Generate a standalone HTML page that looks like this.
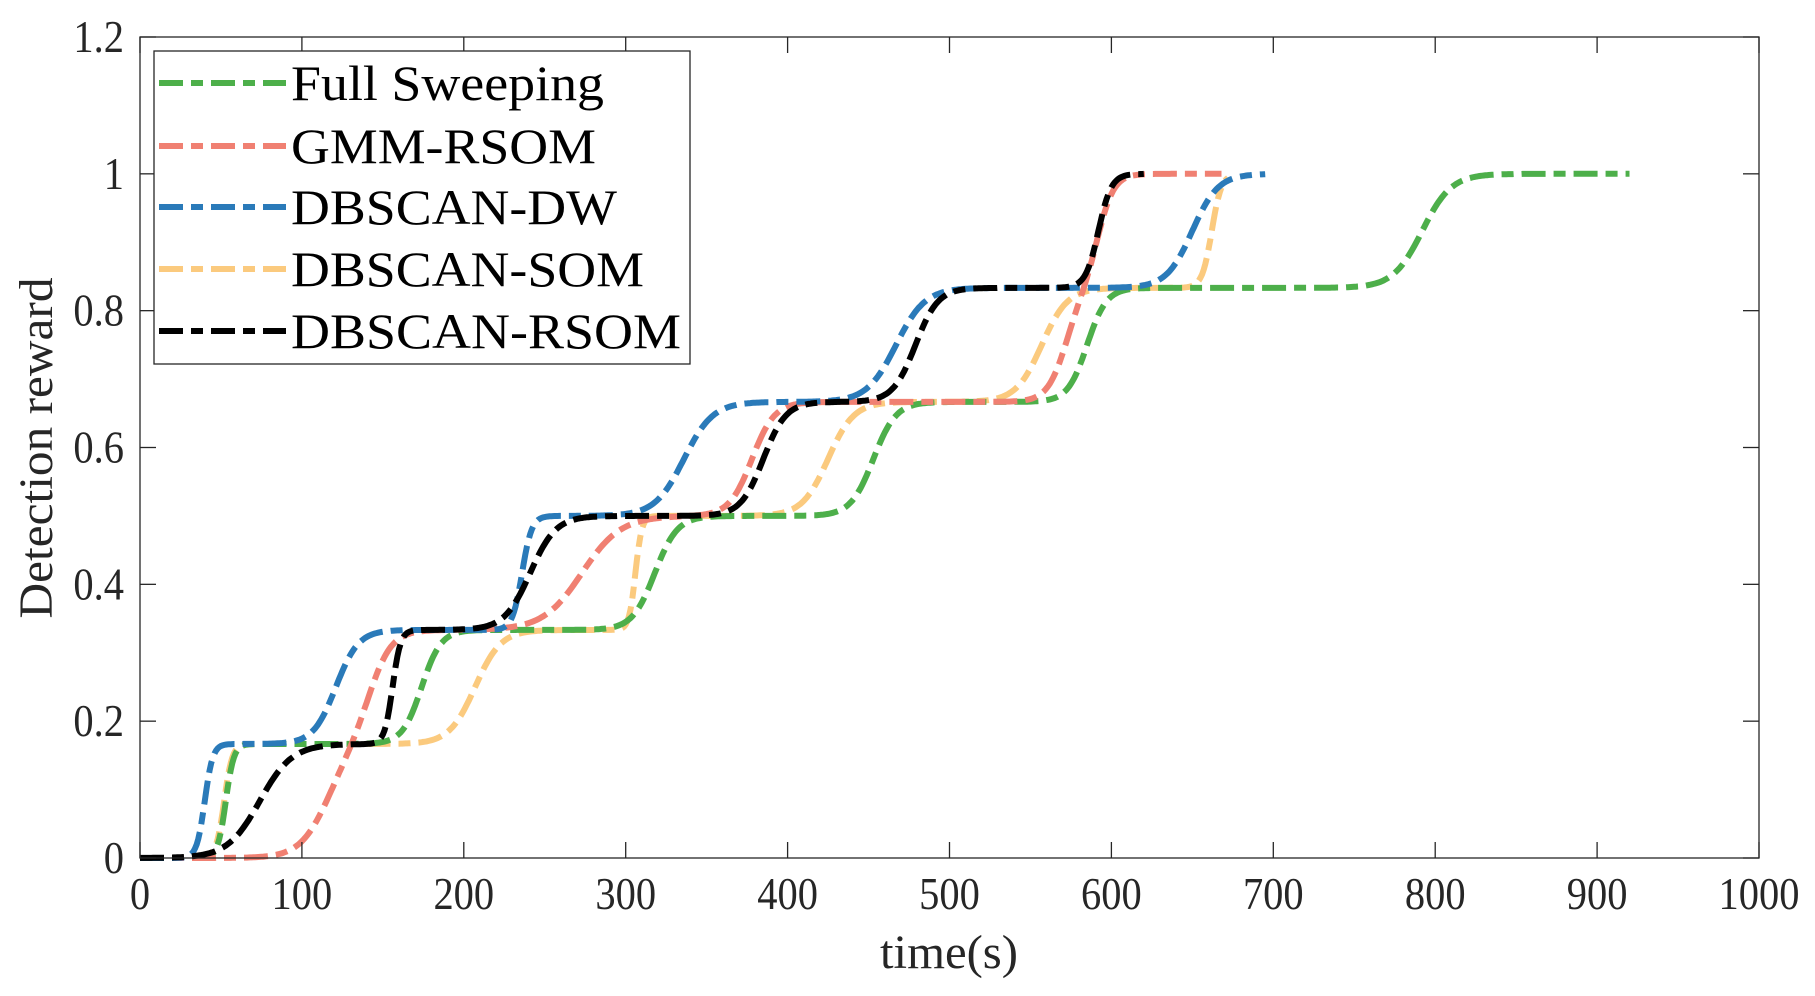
<!DOCTYPE html>
<html><head><meta charset="utf-8"><style>
body{margin:0;background:#fff}
svg{display:block}
text{font-family:"Liberation Serif",serif;fill:#262626}
</style></head><body>
<svg id="s" width="1815" height="996" viewBox="0 0 1815 996" xmlns="http://www.w3.org/2000/svg">
<rect x="0" y="0" width="1815" height="996" fill="#fff"/>
<g id="curves" fill="none" stroke-width="6" stroke-dasharray="24 8 12 8"></g>
<g id="axes" stroke="#262626" stroke-width="1.3" fill="none"></g>
<g id="labels" font-size="46"></g>
<text x="949" y="968" font-size="48" text-anchor="middle" textLength="138" lengthAdjust="spacingAndGlyphs">time(s)</text>
<text transform="translate(52,448) rotate(-90)" font-size="48" text-anchor="middle" textLength="341" lengthAdjust="spacingAndGlyphs">Detection reward</text>
<g>
<rect x="154" y="51" width="536" height="313" fill="#fff" stroke="#262626" stroke-width="1.3"/>
<g stroke-width="6" stroke-dasharray="24 8 12 8">
<line x1="159" y1="83" x2="286" y2="83" stroke="#4daf4a"/>
<line x1="159" y1="146" x2="286" y2="146" stroke="#f08072"/>
<line x1="159" y1="207" x2="286" y2="207" stroke="#2a7ab9"/>
<line x1="159" y1="269" x2="286" y2="269" stroke="#fbca7e"/>
<line x1="159" y1="331" x2="286" y2="331" stroke="#000"/>
</g>
<g font-size="50">
<text x="291" y="100" style="fill:#000" textLength="313" lengthAdjust="spacingAndGlyphs">Full Sweeping</text>
<text x="291" y="163" style="fill:#000" textLength="305" lengthAdjust="spacingAndGlyphs">GMM-RSOM</text>
<text x="291" y="224" style="fill:#000" textLength="326" lengthAdjust="spacingAndGlyphs">DBSCAN-DW</text>
<text x="291" y="286" style="fill:#000" textLength="353" lengthAdjust="spacingAndGlyphs">DBSCAN-SOM</text>
<text x="291" y="348" style="fill:#000" textLength="390" lengthAdjust="spacingAndGlyphs">DBSCAN-RSOM</text>
</g>
</g>
</svg>
<script>
const X0=140,X1=1759,Y0=858,Y1=37;
const px=x=>X0+(X1-X0)*x/1000, py=y=>Y0-(Y0-Y1)*y/1.2;
const ns="http://www.w3.org/2000/svg";
function el(p,t,a){const e=document.createElementNS(ns,t);for(const k in a)e.setAttribute(k,a[k]);p.appendChild(e);return e;}
const L=1/6;
const series=[
 ["#fbca7e",0,672,[[52,2.5],[207,8],[306,2],[425,8],[557,8],[662,3]]],
 ["#4daf4a",0,920,[[53,2.5],[174,6],[318,7],[453,7],[585,6],[792,9]]],
 ["#f08072",0,668,[[116,9],[142,7],[273,12],[378,7],[572,6],[592,5]]],
 ["#2a7ab9",0,695,[[40,2.5],[121,7],[236,3],[336,9],[467,9],[650,8]]],
 ["#000",0,620,[[74,10],[156,2.5],[241,8],[385,7],[479,7],[592,4]]]
];
const g=document.getElementById("curves");
for(const [c,a,b,st] of series){
 let d="";
 for(let x=a;x<=b;x+=1){
  let y=0;for(const [cc,s] of st)y+=L/(1+Math.exp(-(x-cc)/s));
  d+=(x===a?"M":"L")+px(x).toFixed(1)+","+py(y).toFixed(1);
 }
 el(g,"path",{d,stroke:c});
}
const ax=document.getElementById("axes"), lb=document.getElementById("labels");
el(ax,"rect",{x:X0,y:Y1,width:X1-X0,height:Y0-Y1});
for(let i=0;i<=10;i++){const x=px(i*100);
 el(ax,"line",{x1:x,y1:Y0,x2:x,y2:Y0-16});el(ax,"line",{x1:x,y1:Y1,x2:x,y2:Y1+16});
 const t=el(lb,"text",{transform:`translate(${x},${Y0+51}) scale(0.88,1)`,"text-anchor":"middle"});t.textContent=i*100;}
for(let i=0;i<=6;i++){const y=py(i*0.2);
 el(ax,"line",{x1:X0,y1:y,x2:X0+16,y2:y});el(ax,"line",{x1:X1,y1:y,x2:X1-16,y2:y});
 const t=el(lb,"text",{transform:`translate(${X0-16},${y+15}) scale(0.88,1)`,"text-anchor":"end"});t.textContent=[0,"0.2","0.4","0.6","0.8","1","1.2"][i];}
</script>
</body></html>
